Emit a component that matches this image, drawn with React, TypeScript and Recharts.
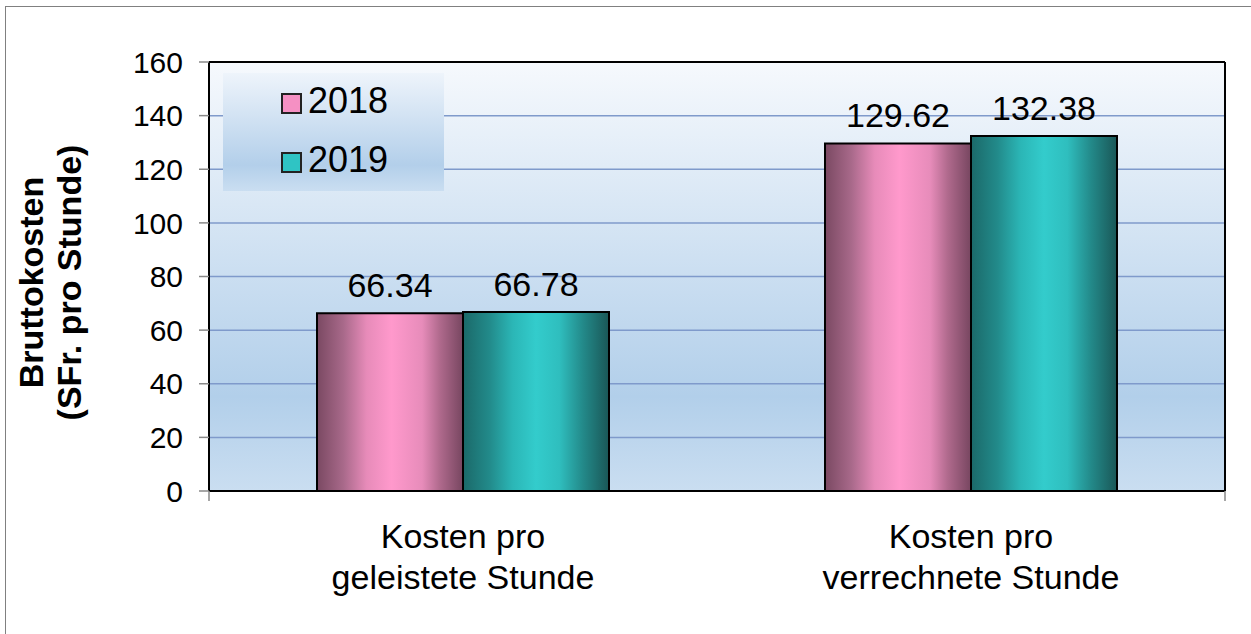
import React from "react";
import { BarChart, Bar, XAxis, YAxis, CartesianGrid, Legend, LabelList } from "recharts";

const FONT = "'Liberation Sans', Arial, sans-serif";

const categories = ["Kosten pro\ngeleistete Stunde", "Kosten pro\nverrechnete Stunde"];
const years = ["2018", "2019"];
const values2018 = [66.34, 129.62];
const values2019 = [66.78, 132.38];
const yTicks = [0, 20, 40, 60, 80, 100, 120, 140, 160];
const yLabel = ["Bruttokosten", "(SFr. pro Stunde)"];
// category boundaries, used only for the small tick marks under the x axis
const edgeTicks = [0, 1, 2];

const data = categories.map((name, i) => ({
  name,
  y2018: values2018[i],
  y2019: values2019[i],
}));

const series = [
  { key: "y2018", name: years[0], grad: "pinkBar", swatch: "#f590c3" },
  { key: "y2019", name: years[1], grad: "tealBar", swatch: "#2fc4c4" },
];

function CategoryTick({ x, y, payload }: any) {
  const lines = String(payload.value).split("\n");
  return (
    <text x={x} y={y} textAnchor="middle" fontSize={34} fill="#000" fontFamily={FONT}>
      {lines.map((l, i) => (
        <tspan key={i} x={x} y={y + 56 + i * 41}>
          {l}
        </tspan>
      ))}
    </text>
  );
}

function AxisTitle({ viewBox }: any) {
  const cy = viewBox.y + viewBox.height / 2 + 6;
  return (
    <text
      transform={`translate(43, ${cy}) rotate(-90)`}
      textAnchor="middle"
      fontSize={34}
      fontWeight="bold"
      fill="#000"
      fontFamily={FONT}
    >
      {yLabel.map((l, i) => (
        <tspan key={i} x={0} y={i * 38}>
          {l}
        </tspan>
      ))}
    </text>
  );
}

function LegendBox() {
  return (
    <div
      style={{
        position: "relative",
        width: 221,
        height: 118,
        background: "linear-gradient(to bottom, #eef4fb 0%, #b3cfea 78%, #cadef1 100%)",
        fontFamily: FONT,
      }}
    >
      {series.map((s, i) => (
        <React.Fragment key={s.key}>
          <div
            style={{
              position: "absolute",
              left: 58,
              top: 20 + i * 59,
              width: 17,
              height: 17,
              background: s.swatch,
              border: "2px solid #222",
            }}
          />
          <div
            style={{
              position: "absolute",
              left: 85,
              top: 10 + i * 59,
              fontSize: 36,
              lineHeight: "36px",
              color: "#000",
            }}
          >
            {s.name}
          </div>
        </React.Fragment>
      ))}
    </div>
  );
}

export default function App() {
  return (
    <div style={{ position: "absolute", left: 0, top: 0, width: 1251, height: 634, overflow: "hidden", background: "#fff" }}>
      <div
        style={{
          position: "absolute",
          left: 5,
          top: 6,
          width: 1400,
          height: 800,
          borderTop: "1px solid #808080",
          borderLeft: "1px solid #808080",
        }}
      />
      <BarChart
        width={1251}
        height={634}
        data={data}
        margin={{ top: 61, right: 25, left: 0, bottom: 0 }}
        barCategoryGap={108}
        barGap={0}
      >
        <defs>
          <linearGradient id="plotBg" x1="0" y1="0" x2="0" y2="1">
            <stop offset="0%" stopColor="#f6f9fd" />
            <stop offset="78%" stopColor="#b2cfea" />
            <stop offset="100%" stopColor="#cadef1" />
          </linearGradient>
          <linearGradient id="pinkBar" x1="0" y1="0" x2="1" y2="0">
            <stop offset="0%" stopColor="#7a4962" />
            <stop offset="18%" stopColor="#a8698a" />
            <stop offset="34%" stopColor="#e78bb9" />
            <stop offset="51%" stopColor="#ff99cc" />
            <stop offset="72%" stopColor="#e78cba" />
            <stop offset="84%" stopColor="#b06a8d" />
            <stop offset="100%" stopColor="#774660" />
          </linearGradient>
          <linearGradient id="tealBar" x1="0" y1="0" x2="1" y2="0">
            <stop offset="0%" stopColor="#1b6969" />
            <stop offset="18%" stopColor="#228a8a" />
            <stop offset="34%" stopColor="#2bb6b6" />
            <stop offset="50%" stopColor="#33cccc" />
            <stop offset="66%" stopColor="#2fbebe" />
            <stop offset="82%" stopColor="#238a8a" />
            <stop offset="100%" stopColor="#1a5757" />
          </linearGradient>
        </defs>
        <CartesianGrid
          xAxisId="cat"
          vertical={false}
          stroke="#7f9acb"
          strokeWidth={1.5}
          fill="url(#plotBg)"
          fillOpacity={1}
        />
        {series.map((s) => (
          <Bar
            key={s.key}
            xAxisId="cat"
            dataKey={s.key}
            name={s.name}
            fill={`url(#${s.grad})`}
            stroke="#000"
            strokeWidth={2}
            isAnimationActive={false}
          >
            <LabelList
              dataKey={s.key}
              position="top"
              offset={16}
              fontSize={34}
              fill="#000"
              fontFamily={FONT}
              formatter={(v: any) => Number(v).toFixed(2)}
            />
          </Bar>
        ))}
        {/* default-id axis sits closest to the plot: black base line + boundary ticks */}
        <XAxis
          type="number"
          domain={[0, 2]}
          ticks={edgeTicks}
          interval={0}
          allowDataOverflow
          height={1}
          tickSize={10}
          tickFormatter={() => ""}
          axisLine={{ stroke: "#000", strokeWidth: 2 }}
          tickLine={{ stroke: "#888", strokeWidth: 1.5 }}
        />
        <XAxis
          xAxisId="cat"
          dataKey="name"
          height={142}
          interval={0}
          tickLine={false}
          tickSize={0}
          tickMargin={0}
          axisLine={false}
          tick={<CategoryTick />}
        />
        <XAxis
          xAxisId="top"
          dataKey="name"
          orientation="top"
          height={1}
          tick={false}
          tickLine={false}
          axisLine={{ stroke: "#000", strokeWidth: 2 }}
        />
        <YAxis
          width={209}
          domain={[0, 160]}
          ticks={yTicks}
          interval={0}
          tickSize={10}
          tickMargin={16}
          tick={{ fontSize: 30, fill: "#000", fontFamily: FONT }}
          tickLine={{ stroke: "#888", strokeWidth: 1.5 }}
          axisLine={{ stroke: "#000", strokeWidth: 2 }}
          label={{ content: <AxisTitle /> }}
        />
        <YAxis
          yAxisId="right"
          orientation="right"
          width={1}
          domain={[0, 160]}
          tick={false}
          tickLine={false}
          axisLine={{ stroke: "#000", strokeWidth: 2 }}
        />
        <Legend
          layout="vertical"
          align="center"
          verticalAlign="middle"
          content={<LegendBox />}
          wrapperStyle={{ left: 223, top: 73, width: 221, height: 118, margin: 0, padding: 0 }}
        />
      </BarChart>
    </div>
  );
}
